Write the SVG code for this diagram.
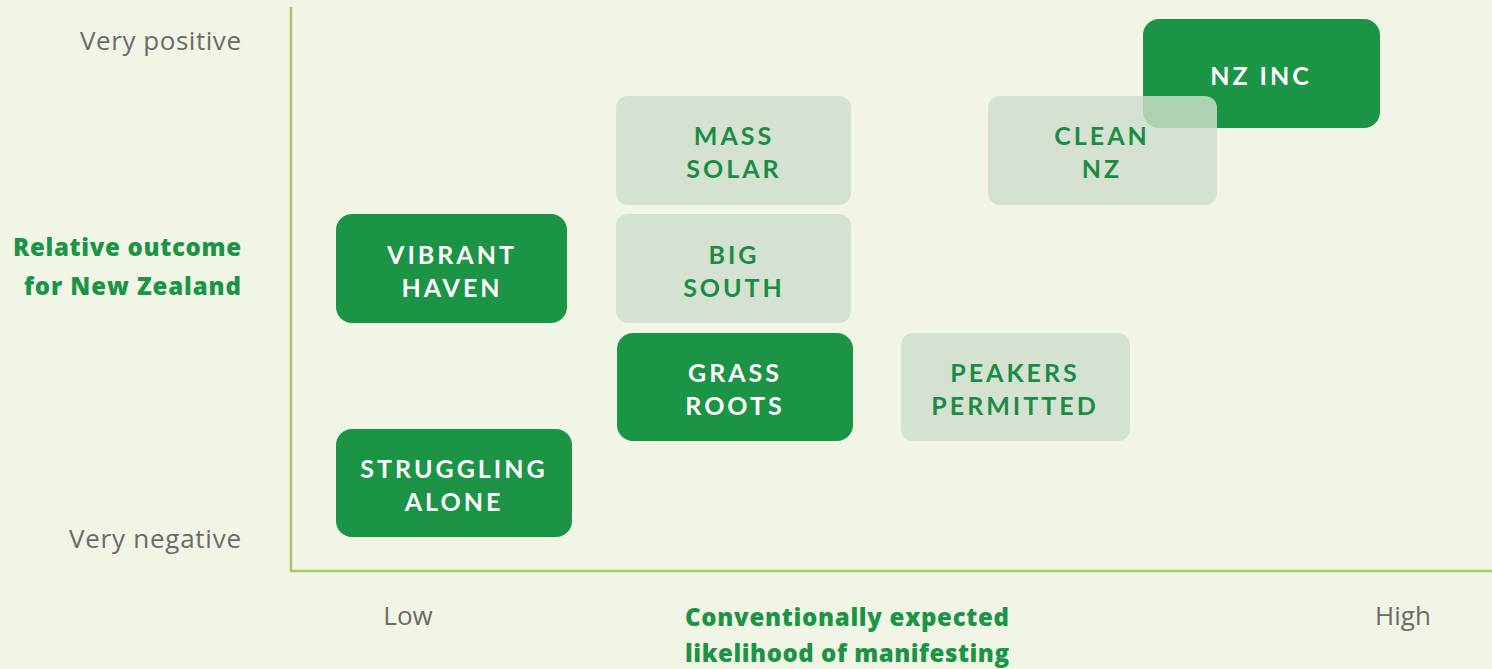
<svg xmlns="http://www.w3.org/2000/svg" width="1492" height="669" viewBox="0 0 1492 669">
<style>
.ax{font-family:"Open Sans","Liberation Sans",sans-serif;font-size:26px;fill:#6b6b6b}
.ttl{font-family:"Open Sans","Liberation Sans",sans-serif;font-size:24px;font-weight:800;fill:#1b9446}
.dark rect{fill:#1b9446}
.light rect{fill:#cedecc;fill-opacity:0.82}
.dark text{fill:#ffffff}
.light text{fill:#1b8c45}
.node text{font-family:Lato,"Liberation Sans",sans-serif;font-size:25px;font-weight:bold;letter-spacing:3px;text-anchor:middle}
</style>
<rect width="1492" height="669" fill="#f0f5e6"/>
<g id="axes" fill="none" stroke="#a9c865" stroke-width="2.5">
<polyline points="291,7 291,571 1492,571"/>
</g>
<g id="labels">
<text class="ax" x="241" y="50" text-anchor="end" textLength="161">Very positive</text>
<text class="ax" x="241" y="548" text-anchor="end" textLength="172">Very negative</text>
<text class="ttl" x="241" y="256" text-anchor="end" textLength="228">Relative outcome</text>
<text class="ttl" x="241" y="295" text-anchor="end" textLength="217">for New Zealand</text>
<text class="ax" x="408" y="625" text-anchor="middle">Low</text>
<text class="ax" x="1403" y="625" text-anchor="middle">High</text>
<text class="ttl" x="685" y="626" textLength="324">Conventionally expected</text>
<text class="ttl" x="685" y="662" textLength="324">likelihood of manifesting</text>
</g>
<g id="connectors"></g>
<g id="nz-inc" class="node dark"><rect x="1143" y="19" width="237" height="109" rx="16"/><text x="1261" y="85">NZ INC</text></g>
<g id="clean-nz" class="node light"><rect x="988" y="96" width="229" height="109" rx="12"/><text x="1102" y="145">CLEAN</text><text x="1102" y="178">NZ</text></g>
<g id="mass-solar" class="node light"><rect x="616" y="96" width="235" height="109" rx="12"/><text x="734" y="145">MASS</text><text x="734" y="178">SOLAR</text></g>
<g id="big-south" class="node light"><rect x="616" y="214" width="235" height="109" rx="12"/><text x="734" y="264">BIG</text><text x="734" y="297">SOUTH</text></g>
<g id="vibrant-haven" class="node dark"><rect x="336" y="214" width="231" height="109" rx="16"/><text x="452" y="264">VIBRANT</text><text x="452" y="297">HAVEN</text></g>
<g id="grass-roots" class="node dark"><rect x="617" y="333" width="236" height="108" rx="16"/><text x="735" y="382">GRASS</text><text x="735" y="415">ROOTS</text></g>
<g id="peakers-permitted" class="node light"><rect x="901" y="333" width="229" height="108" rx="12"/><text x="1015" y="382">PEAKERS</text><text x="1015" y="415">PERMITTED</text></g>
<g id="struggling-alone" class="node dark"><rect x="336" y="429" width="236" height="108" rx="16"/><text x="454" y="478">STRUGGLING</text><text x="454" y="511">ALONE</text></g>
</svg>
